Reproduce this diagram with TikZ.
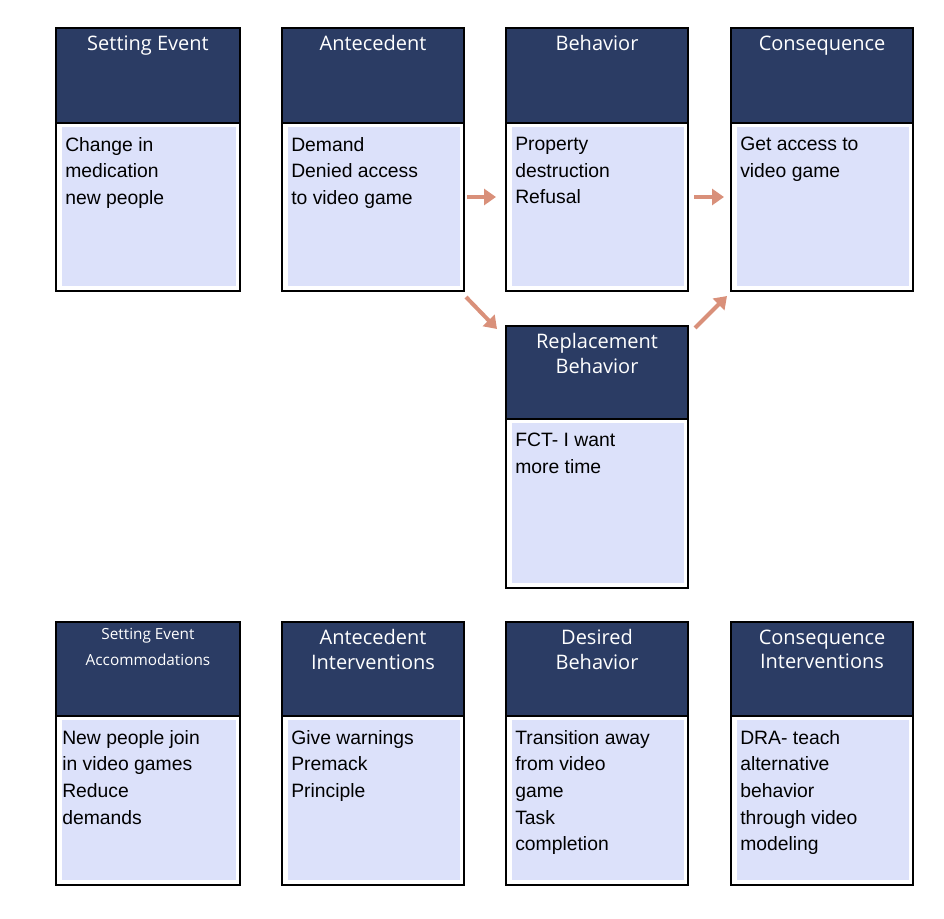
\documentclass[tikz,border=0pt]{standalone}
\usepackage{fontspec}
\setmainfont{Liberation Sans}
\newfontfamily\hdfont{Open Sans}
\usetikzlibrary{arrows.meta}
\definecolor{hdr}{HTML}{2B3C64}
\definecolor{lite}{HTML}{DCE1FA}
\definecolor{arr}{HTML}{D9907A}
\tikzset{
 hd/.style={fill=hdr,draw=black,line width=0.8pt},
 bd/.style={fill=white,draw=black,line width=0.8pt},
 inr/.style={fill=lite,draw=none},
 ht/.style={text=white,font=\hdfont\fontsize{15}{18.5}\selectfont,align=center,anchor=north},
 bt/.style={font=\fontsize{14.5}{20}\selectfont,align=left,anchor=north west,inner sep=0pt},
 ar/.style={draw=arr,line width=3pt,-{Triangle[length=9pt,width=12pt]}},
}
\newcommand{\card}[8]{% name x0 x1 yt ym yb header body
 \draw[hd] (#2,#4) rectangle (#3,#5);
 \draw[bd] (#2,#5) rectangle (#3,#6);
 \fill[inr] (#2+6,#5+4) rectangle (#3-4,#6-5);
 \node[ht] (#1h) at ({(#2+#3)/2},#4+3) {#7};
 \node[bt] (#1b) at (#2+9,#5+14) {#8};
}
\begin{document}
\begin{tikzpicture}[x=0.75pt,y=-0.75pt]
\useasboundingbox (0,0) rectangle (944,918);
\card{se}{56}{240}{28}{123}{291}{Setting Event}{Change in\\medication\\new people}
\card{an}{282}{464}{28}{123}{291}{Antecedent}{Demand\\Denied access\\to video game}
\card{be}{506}{688}{28}{123}{291}{Behavior}{Property\\destruction\\Refusal}
\card{co}{731}{913}{28}{123}{291}{Consequence}{Get access to\\video game}
\card{rb}{506}{688}{326}{419}{588}{Replacement\\Behavior}{FCT- I want\\more time}
\draw[hd] (56,622) rectangle (240,716);
\draw[bd] (56,716) rectangle (240,885);
\fill[inr] (62,720) rectangle (236,880);
\node[text=white,font=\hdfont\fontsize{11.5}{19}\selectfont,align=center,anchor=north] (seah) at (148,624) {Setting Event\\Accommodations};
\node[bt] (seab) at (62,730) {New people join\\in video games\\Reduce\\demands};
\card{ai}{282}{464}{622}{716}{885}{Antecedent\\Interventions}{Give warnings\\Premack\\Principle}
\card{db}{506}{688}{622}{716}{885}{Desired\\Behavior}{Transition away\\from video\\game\\Task\\completion}
\card{ci}{731}{913}{622}{716}{885}{Consequence\\Interventions}{DRA- teach\\alternative\\behavior\\through video\\modeling}
\coordinate (a1) at (467,197); \coordinate (a2) at (496,197);
\coordinate (b1) at (694,197); \coordinate (b2) at (724,197);
\coordinate (c1) at (466,297); \coordinate (c2) at (497,329);
\coordinate (d1) at (695,328); \coordinate (d2) at (727,296);
\draw[ar] (a1) -- (a2);
\draw[ar] (b1) -- (b2);
\draw[ar] (c1) -- (c2);
\draw[ar] (d1) -- (d2);
\end{tikzpicture}
\end{document}
